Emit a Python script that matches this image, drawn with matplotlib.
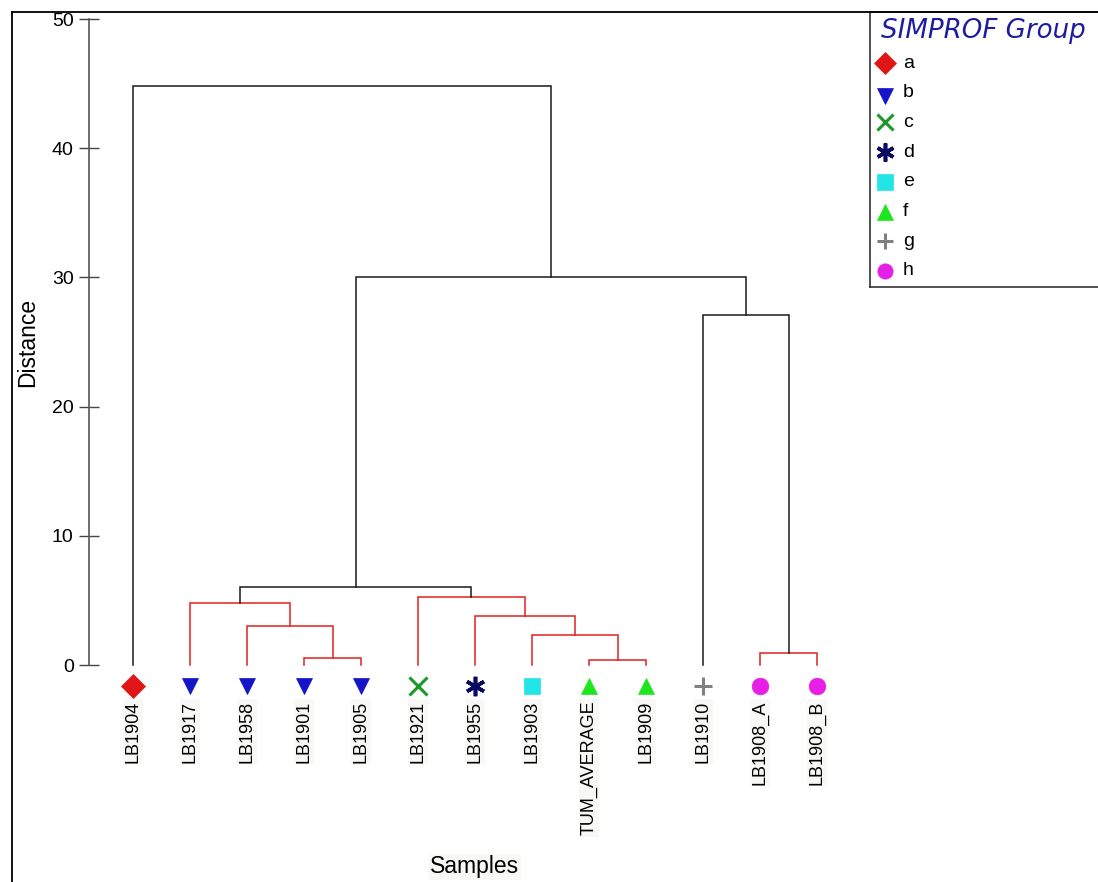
import matplotlib
matplotlib.use('Agg')
import matplotlib.pyplot as plt
from matplotlib.lines import Line2D

plt.rcParams['font.family'] = ['Liberation Sans', 'DejaVu Sans']

# leaves in dendrogram order and their SIMPROF groups
leaves = ['LB1904', 'LB1917', 'LB1958', 'LB1901', 'LB1905', 'LB1921', 'LB1955',
          'LB1903', 'TUM_AVERAGE', 'LB1909', 'LB1910', 'LB1908_A', 'LB1908_B']
leaf_groups = ['a', 'b', 'b', 'b', 'b', 'c', 'd', 'e', 'f', 'f', 'g', 'h', 'h']

# merges: (child1, child2, distance, significant split?) ; new node ids start at 13
merge_left = [3, 8, 11, 7, 2, 6, 1, 5, 19, 10, 21, 0]
merge_right = [4, 9, 12, 14, 13, 16, 17, 18, 20, 15, 22, 23]
merge_dist = [0.54, 0.4, 0.92, 2.35, 3.0, 3.8, 4.78, 5.25, 6.03, 27.1, 30.0, 44.8]
merge_signif = [False, False, False, False, False, False, False, False, True, True, True, True]

groups = ['a', 'b', 'c', 'd', 'e', 'f', 'g', 'h']
group_markers = ['D', 'v', 'x', (6, 2, 0), 's', '^', '+', 'o']
group_colors = ['#e01515', '#1414c8', '#1a9a28', '#0a0a60', '#22e6e6', '#1ee61e', '#808080', '#e61ee6']

W, H = 1098, 882
fig = plt.figure(figsize=(W / 100, H / 100), dpi=100)


def fx(px):
    return px / W


def fy(py):
    return 1 - py / H


def marker_style(m, big):
    # sizes / edge widths so line-type markers look as heavy as filled ones
    if m in ('x', '+'):
        return dict(markersize=big + 1, markeredgewidth=2.2)
    if m == (6, 2, 0):
        return dict(markersize=big + 2, markeredgewidth=2.6)
    return dict(markersize=big, markeredgewidth=0.5)


# outer frame (cut off on right and bottom)
fig.add_artist(Line2D([fx(12), fx(12)], [fy(12), fy(H + 5)], color='black', lw=1.3))
fig.add_artist(Line2D([fx(12), fx(W + 5)], [fy(12), fy(12)], color='black', lw=1.3))

ax = fig.add_axes([fx(89), fy(665), fx(860) - fx(89), (665 - 19) / H])
step = 57.0
ax.set_xlim(-(133 - 89) / step, (860 - 133) / step)
ax.set_ylim(0, 50)

# dendrogram drawing
xpos = list(range(len(leaves)))
hts = [0.0] * len(leaves)
for l, r, d, sig in zip(merge_left, merge_right, merge_dist, merge_signif):
    c = '#1a1a1a' if sig else '#e02020'
    ax.plot([xpos[l], xpos[l], xpos[r], xpos[r]], [hts[l], d, d, hts[r]],
            color=c, lw=1.1, solid_joinstyle='miter', clip_on=False)
    xpos.append((xpos[l] + xpos[r]) / 2)
    hts.append(d)

# leaf markers and labels
for i, (name, g) in enumerate(zip(leaves, leaf_groups)):
    k = groups.index(g)
    m = group_markers[k]
    ax.plot(i, -1.6, marker=m, color=group_colors[k], linestyle='none', clip_on=False,
            **marker_style(m, 12))
    ax.text(i, -2.75, name, rotation=90, ha='center', va='top', fontsize=13, color='black',
            bbox=dict(facecolor='#f8f8f6', edgecolor='none', pad=1))

ax.set_yticks([0, 10, 20, 30, 40, 50])
ax.tick_params(axis='y', direction='inout', length=14, width=1, color='#444444',
               labelsize=14, pad=4)
ax.set_xticks([])
for s in ['top', 'right', 'bottom']:
    ax.spines[s].set_visible(False)
ax.spines['left'].set_color('#555555')
ax.spines['left'].set_linewidth(1.2)
ax.patch.set_visible(False)

fig.text(fx(28), fy(342), 'Distance', rotation=90, ha='center', va='center', fontsize=16.5)
fig.text(fx(475), fy(867), 'Samples', ha='center', va='center', fontsize=16.5,
         bbox=dict(facecolor='#f8f8f6', edgecolor='none', pad=1))

# legend box
lax = fig.add_axes([fx(870), fy(287), fx(1115) - fx(870), (287 - 12) / H])
lax.set_xlim(870, 1115)
lax.set_ylim(287, 12)
lax.set_xticks([])
lax.set_yticks([])
for s in lax.spines.values():
    s.set_color('#333333')
    s.set_linewidth(1.2)
lax.text(881, 31, 'SIMPROF Group', fontsize=18.8, style='italic', color='#1c1ca0',
         ha='left', va='center', family='DejaVu Sans')
for k, g in enumerate(groups):
    yy = 63 + k * 29.7
    m = group_markers[k]
    lax.plot(885, yy + (3 if m == 'v' else 0), marker=m, color=group_colors[k],
             linestyle='none', **marker_style(m, 11))
    lax.text(903, yy, g, fontsize=14, ha='left', va='center')

fig.savefig('out.png', dpi=100)
